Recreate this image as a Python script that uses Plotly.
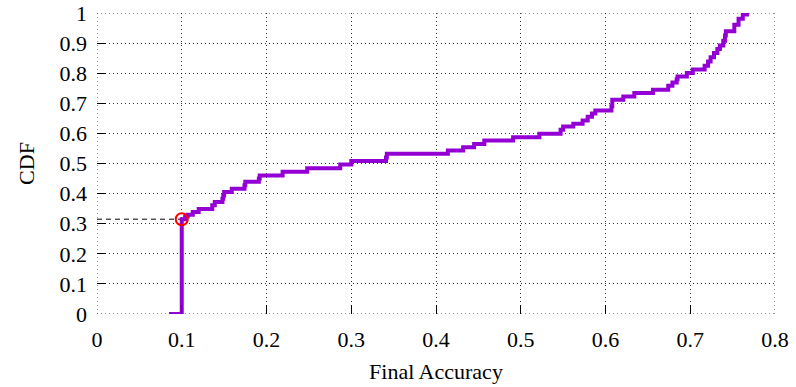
import plotly.graph_objects as go

# Empirical CDF of final accuracy (step points: value where each level starts)
accuracy = [0.085, 0.100, 0.104, 0.107, 0.113, 0.120, 0.136, 0.139, 0.148, 0.149,
            0.150, 0.159, 0.174, 0.175, 0.191, 0.192, 0.219, 0.248, 0.287, 0.300,
            0.341, 0.342, 0.414, 0.432, 0.445, 0.457, 0.491, 0.522, 0.547, 0.550,
            0.562, 0.573, 0.579, 0.584, 0.588, 0.607, 0.608, 0.621, 0.634, 0.656,
            0.674, 0.679, 0.684, 0.685, 0.696, 0.703, 0.717, 0.721, 0.724, 0.728,
            0.732, 0.735, 0.739, 0.741, 0.742, 0.752, 0.757, 0.762, 0.767]
cdf = [0.000, 0.315, 0.324, 0.330, 0.339, 0.349, 0.361, 0.372, 0.383, 0.394,
       0.405, 0.416, 0.428, 0.439, 0.450, 0.460, 0.473, 0.484, 0.497, 0.508,
       0.520, 0.532, 0.543, 0.554, 0.565, 0.576, 0.587, 0.599, 0.612, 0.623,
       0.632, 0.643, 0.655, 0.666, 0.676, 0.690, 0.712, 0.723, 0.734, 0.745,
       0.758, 0.769, 0.780, 0.789, 0.801, 0.812, 0.825, 0.839, 0.853, 0.867,
       0.880, 0.892, 0.908, 0.925, 0.939, 0.961, 0.981, 0.995, 1.000]

# Highlighted point: fraction of runs stuck at chance accuracy
mark_acc = 0.1
mark_cdf = 0.315

x_ticks = [0, 0.1, 0.2, 0.3, 0.4, 0.5, 0.6, 0.7, 0.8]
y_ticks = [0, 0.1, 0.2, 0.3, 0.4, 0.5, 0.6, 0.7, 0.8, 0.9, 1]

FONT = "Liberation Serif, Times New Roman, serif"
GRID = "rgba(0,0,0,0.8)"
DOTS = "1px,3px"

fig = go.Figure()

# dotted frame around the plotting area
for x0, y0, x1, y1 in [(0, 0, 0.8, 0), (0, 1, 0.8, 1), (0, 0, 0, 1), (0.8, 0, 0.8, 1)]:
    fig.add_shape(type="line", x0=x0, y0=y0, x1=x1, y1=y1, xref="x", yref="y",
                  line=dict(color=GRID, width=1, dash=DOTS), layer="below")

fig.add_trace(go.Scatter(
    x=[0, mark_acc], y=[mark_cdf, mark_cdf], mode="lines",
    line=dict(color="black", width=1, dash="5px,4px"),
    hoverinfo="skip", showlegend=False))

fig.add_trace(go.Scatter(
    x=accuracy, y=cdf, mode="lines", line_shape="hv",
    line=dict(color="rgb(148,0,211)", width=4),
    showlegend=False))

fig.add_trace(go.Scatter(
    x=[mark_acc], y=[mark_cdf], mode="markers",
    marker=dict(symbol="circle-open", size=12, color="red",
                line=dict(color="red", width=2)),
    showlegend=False))

axis_common = dict(
    showgrid=True, gridcolor=GRID, griddash=DOTS, gridwidth=1,
    zeroline=False, showline=False, ticks="inside", ticklen=9, tickwidth=1,
    tickcolor="black", tickfont=dict(family=FONT, size=22, color="black"),
    automargin=False,
)

fig.update_xaxes(range=[0, 0.8], tickvals=x_ticks, ticklabelstandoff=10,
                 title=dict(text="Final Accuracy", font=dict(family=FONT, size=22, color="black"),
                            standoff=12),
                 **axis_common)
fig.update_yaxes(range=[0, 1], tickvals=y_ticks, ticklabelstandoff=9,
                 title=dict(text="CDF", font=dict(family=FONT, size=22, color="black"),
                            standoff=18),
                 **axis_common)

fig.update_layout(
    width=796, height=387,
    margin=dict(l=97, r=21, t=13, b=73),
    plot_bgcolor="white", paper_bgcolor="white",
    font=dict(family=FONT, color="black"),
)

fig.write_html("out.html")
